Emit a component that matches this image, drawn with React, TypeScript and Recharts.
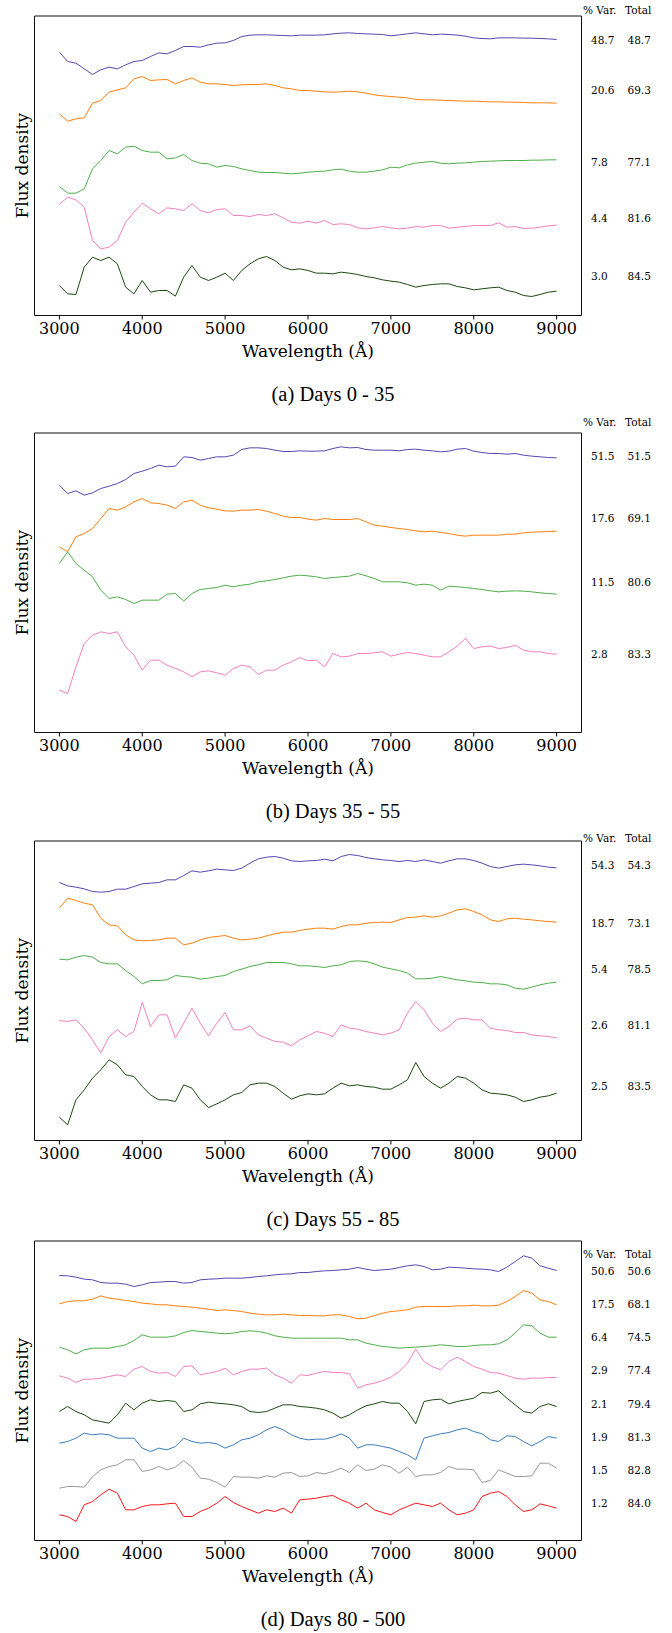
import { LineChart, Line, XAxis, YAxis, ReferenceArea } from "recharts";

// wavelength grid (Å)
const WAVE = [
  3000, 3100, 3200, 3300, 3400, 3500, 3600, 3700, 3800, 3900,
  4000, 4100, 4200, 4300, 4400, 4500, 4600, 4700, 4800, 4900,
  5000, 5100, 5200, 5300, 5400, 5500, 5600, 5700, 5800, 5900,
  6000, 6100, 6200, 6300, 6400, 6500, 6600, 6700, 6800, 6900,
  7000, 7100, 7200, 7300, 7400, 7500, 7600, 7700, 7800, 7900,
  8000, 8100, 8200, 8300, 8400, 8500, 8600, 8700, 8800, 8900,
  9000,
];
const TICKS = [3000, 4000, 5000, 6000, 7000, 8000, 9000];

// (a) Days 0 - 35 — offset flux, arbitrary units
const A_PURPLE = [
  790, 762, 757, 740, 723, 737, 745, 740, 752, 762,
  765, 777, 788, 785, 795, 807, 807, 805, 812, 817,
  818, 825, 837, 841, 842, 842, 841, 840, 839, 841,
  841, 841, 842, 845, 847, 848, 846, 845, 844, 843,
  839, 842, 845, 848, 845, 842, 844, 843, 841, 838,
  833, 831, 830, 833, 833, 833, 832, 832, 831, 830,
  828,
];
const A_ORANGE = [
  605, 583, 590, 593, 637, 645, 670, 677, 683, 710,
  717, 705, 707, 708, 695, 705, 713, 700, 695, 695,
  693, 690, 692, 693, 693, 695, 690, 683, 680, 675,
  675, 673, 671, 670, 671, 673, 671, 667, 662, 659,
  657, 655, 653, 648, 647, 647, 646, 645, 644, 643,
  643, 642, 641, 641, 640, 640, 639, 638, 638, 638,
  637,
];
const A_GREEN = [
  387, 367, 367, 380, 440, 465, 495, 485, 505, 508,
  495, 490, 490, 470, 473, 483, 465, 457, 455, 445,
  450, 447, 440, 435, 430, 429, 429, 427, 425, 427,
  430, 432, 433, 437, 439, 433, 430, 430, 433, 437,
  445, 443, 452, 457, 460, 462, 457, 455, 457, 458,
  460, 462, 463, 464, 465, 465, 465, 466, 466, 467,
  467,
];
const A_PINK = [
  333, 355, 347, 325, 225, 200, 205, 225, 280, 310,
  337, 320, 305, 323, 320, 315, 335, 315, 308, 318,
  320, 300, 300, 297, 303, 300, 305, 293, 280, 277,
  283, 277, 285, 273, 275, 273, 263, 260, 263, 267,
  263, 260, 262, 267, 265, 270, 270, 262, 265, 267,
  270, 270, 270, 278, 265, 267, 261, 262, 265, 269,
  271,
];
const A_DKGREEN = [
  90, 65, 63, 145, 175, 165, 175, 155, 85, 65,
  105, 70, 75, 75, 58, 115, 150, 115, 105, 115,
  127, 105, 135, 155, 170, 177, 165, 145, 137, 140,
  135, 127, 127, 125, 130, 127, 123, 117, 113, 107,
  103, 100, 93, 85, 90, 93, 95, 95, 87, 83,
  77, 80, 83, 85, 75, 70, 60, 57, 63, 70,
  73,
];

// (b) Days 35 - 55
const B_PURPLE = [
  742, 717, 725, 712, 719, 732, 739, 747, 759, 777,
  784, 792, 802, 797, 799, 827, 825, 817, 822, 827,
  827, 832, 849, 854, 854, 852, 847, 843, 843, 845,
  844, 844, 845, 852, 857, 854, 855, 849, 847, 847,
  847, 845, 849, 850, 847, 845, 842, 844, 850, 852,
  844, 840, 837, 837, 835, 837, 832, 829, 827, 825,
  824,
];
const B_ORANGE = [
  557, 542, 587, 597, 612, 642, 672, 667, 677, 692,
  702, 689, 687, 682, 672, 692, 697, 682, 674, 670,
  665, 664, 667, 667, 669, 664, 657, 649, 645, 645,
  640, 637, 642, 639, 639, 639, 642, 632, 622, 619,
  615, 612, 609, 605, 602, 604, 600, 597, 592, 589,
  592, 592, 592, 592, 595, 595, 599, 601, 602, 603,
  604,
];
const B_GREEN = [
  507, 542, 507, 487, 467, 427, 402, 407, 399, 387,
  397, 397, 397, 415, 417, 394, 417, 429, 432, 435,
  442, 437, 442, 445, 452, 455, 459, 464, 469, 472,
  470, 467, 462, 465, 467, 469, 477, 470, 462, 452,
  452, 452, 449, 442, 445, 442, 427, 439, 437, 435,
  432, 429, 425, 422, 424, 425, 424, 422, 419, 417,
  415,
];
const B_PINK = [
  127, 117, 197, 267, 292, 302, 297, 302, 257, 232,
  187, 217, 217, 202, 192, 182, 167, 182, 185, 179,
  172, 192, 202, 197, 174, 187, 187, 202, 212, 225,
  215, 217, 197, 237, 227, 229, 237, 237, 239, 242,
  229, 235, 240, 237, 232, 227, 227, 242, 259, 282,
  252, 257, 259, 252, 255, 262, 247, 242, 242, 237,
  235,
];

// (c) Days 55 - 85
const C_PURPLE = [
  774, 764, 760, 755, 747, 745, 747, 754, 754, 762,
  770, 772, 774, 782, 782, 795, 809, 805, 809, 814,
  812, 810, 817, 832, 845, 850, 852, 847, 839, 837,
  839, 840, 844, 839, 852, 858, 855, 849, 845, 842,
  840, 837, 840, 837, 842, 837, 832, 839, 845, 845,
  840, 832, 822, 817, 822, 827, 829, 827, 824, 820,
  818,
];
const C_ORANGE = [
  697, 727, 720, 712, 707, 667, 647, 644, 617, 602,
  599, 600, 602, 607, 607, 587, 592, 602, 609, 612,
  615, 607, 602, 604, 607, 614, 620, 625, 625, 630,
  634, 637, 637, 634, 642, 647, 647, 652, 654, 655,
  654, 662, 669, 670, 674, 670, 674, 682, 692, 695,
  687, 677, 662, 657, 665, 667, 664, 662, 659, 657,
  655,
];
const C_GREEN = [
  544, 542, 550, 555, 550, 534, 530, 530, 510, 492,
  470, 480, 480, 482, 495, 492, 490, 484, 487, 492,
  495, 507, 514, 522, 527, 534, 534, 534, 530, 524,
  524, 522, 519, 524, 527, 537, 539, 537, 530, 520,
  515, 510, 502, 485, 485, 487, 492, 487, 482, 479,
  475, 474, 470, 470, 467, 457, 454, 460, 467, 472,
  475,
];
const C_PINK = [
  360, 357, 362, 337, 302, 262, 312, 332, 312, 327,
  414, 342, 377, 377, 307, 352, 397, 352, 314, 352,
  384, 332, 332, 344, 317, 307, 297, 295, 284, 302,
  314, 327, 322, 312, 347, 337, 334, 327, 322, 317,
  322, 332, 382, 417, 392, 352, 327, 342, 364, 367,
  362, 362, 337, 332, 330, 324, 324, 317, 314, 312,
  308,
];
const C_DKGREEN = [
  70, 47, 122, 152, 187, 212, 242, 227, 197, 192,
  162, 137, 122, 122, 117, 167, 157, 122, 99, 110,
  122, 137, 144, 167, 172, 172, 162, 142, 124, 134,
  140, 137, 140, 157, 172, 164, 167, 162, 160, 154,
  154, 167, 182, 234, 192, 172, 157, 172, 192, 187,
  172, 152, 142, 140, 137, 130, 117, 122, 130, 134,
  142,
];

// (d) Days 80 - 500
const D_PURPLE = [
  795, 794, 790, 784, 782, 774, 772, 772, 769, 762,
  767, 774, 775, 777, 777, 772, 774, 782, 784, 785,
  787, 787, 787, 789, 792, 794, 797, 799, 800, 804,
  804, 807, 809, 810, 812, 814, 819, 814, 810, 812,
  814, 819, 824, 827, 822, 812, 814, 820, 819, 817,
  815, 814, 812, 807, 820, 837, 854, 847, 824, 817,
  810,
];
const D_ORANGE = [
  710, 717, 719, 719, 724, 734, 727, 724, 720, 717,
  712, 710, 707, 707, 704, 702, 700, 697, 694, 690,
  692, 690, 687, 682, 679, 677, 677, 679, 677, 675,
  675, 674, 674, 677, 677, 672, 665, 667, 675, 682,
  687, 689, 692, 700, 702, 702, 702, 702, 704, 704,
  706, 704, 704, 706, 717, 732, 750, 742, 722, 717,
  707,
];
const D_GREEN = [
  580, 572, 560, 572, 577, 577, 577, 582, 587, 600,
  617, 610, 610, 610, 614, 624, 630, 627, 625, 622,
  620, 622, 627, 629, 627, 622, 614, 610, 607, 607,
  607, 607, 607, 607, 607, 602, 602, 592, 587, 582,
  580, 577, 579, 580, 582, 584, 587, 585, 582, 582,
  585, 587, 587, 590, 602, 622, 647, 644, 622, 610,
  610,
];
const D_PINK = [
  494, 487, 474, 484, 484, 487, 492, 497, 492, 514,
  522, 507, 502, 504, 492, 522, 524, 497, 502, 507,
  517, 497, 507, 514, 514, 517, 497, 487, 472, 497,
  495, 502, 507, 504, 504, 500, 457, 467, 472, 480,
  490, 507, 532, 574, 537, 522, 512, 537, 550, 537,
  522, 514, 504, 502, 495, 487, 484, 487, 487, 489,
  489,
];
const D_DKGREEN = [
  387, 402, 387, 377, 362, 357, 352, 377, 412, 392,
  412, 422, 417, 420, 417, 387, 392, 410, 415, 412,
  410, 407, 402, 387, 384, 387, 397, 407, 407, 402,
  400, 397, 392, 382, 367, 377, 392, 404, 410, 417,
  412, 412, 387, 350, 417, 422, 424, 410, 417, 422,
  427, 444, 442, 449, 427, 407, 387, 382, 402, 410,
  402,
];
const D_BLUE = [
  292, 297, 307, 322, 317, 320, 317, 307, 307, 307,
  277, 267, 277, 272, 282, 307, 297, 292, 294, 290,
  277, 287, 302, 307, 317, 332, 342, 332, 317, 307,
  302, 304, 304, 310, 320, 307, 277, 287, 287, 282,
  277, 267, 257, 242, 307, 314, 320, 324, 332, 337,
  327, 320, 302, 297, 314, 312, 297, 284, 297, 312,
  307,
];
const D_GRAY = [
  157, 162, 162, 160, 192, 212, 222, 227, 242, 242,
  207, 212, 222, 212, 220, 240, 220, 187, 184, 174,
  160, 192, 190, 190, 187, 194, 190, 202, 204, 192,
  194, 204, 200, 207, 217, 204, 227, 210, 214, 227,
  220, 202, 220, 192, 197, 197, 204, 222, 214, 214,
  212, 174, 180, 212, 202, 192, 192, 194, 232, 232,
  217,
];
const D_RED = [
  77, 72, 57, 107, 117, 137, 154, 142, 92, 92,
  102, 107, 107, 110, 112, 72, 72, 87, 97, 112,
  132, 114, 102, 92, 82, 92, 87, 97, 82, 122,
  124, 127, 132, 135, 122, 112, 97, 112, 92, 84,
  77, 92, 102, 112, 107, 102, 112, 92, 77, 82,
  92, 132, 142, 147, 132, 107, 87, 92, 110, 104,
  97,
];

// % variance and cumulative total per component
const A_VAR = ["48.7", "20.6", "7.8", "4.4", "3.0"];
const A_TOTAL = ["48.7", "69.3", "77.1", "81.6", "84.5"];
const B_VAR = ["51.5", "17.6", "11.5", "2.8"];
const B_TOTAL = ["51.5", "69.1", "80.6", "83.3"];
const C_VAR = ["54.3", "18.7", "5.4", "2.6", "2.5"];
const C_TOTAL = ["54.3", "73.1", "78.5", "81.1", "83.5"];
const D_VAR = ["50.6", "17.5", "6.4", "2.9", "2.1", "1.9", "1.5", "1.2"];
const D_TOTAL = ["50.6", "68.1", "74.5", "77.4", "79.4", "81.3", "82.8", "84.0"];

const CAPTIONS = ["(a) Days 0 - 35", "(b) Days 35 - 55", "(c) Days 55 - 85", "(d) Days 80 - 500"];

const PURPLE = "#5b44b2";
const ORANGE = "#ff7f0e";
const GREEN = "#4daf4a";
const PINK = "#f57fbf";
const DKGREEN = "#1b4a10";
const BLUE = "#3a7dbd";
const GRAY = "#999999";
const RED = "#f5161c";

// layout (pixels)
const BOX_H = 299.5;
const PLOT_LEFT = 34.5;
const PLOT_RIGHT = 581.5;
const SERIF = "'DejaVu Serif', 'Liberation Serif', serif";
const TIMES = "'Liberation Serif', 'DejaVu Serif', serif";

const panels = [
  {
    bottom: 315.5,
    series: [A_PURPLE, A_ORANGE, A_GREEN, A_PINK, A_DKGREEN],
    colors: [PURPLE, ORANGE, GREEN, PINK, DKGREEN],
    vars: A_VAR, totals: A_TOTAL,
    headY: 14, rowY: [43.5, 93.8, 165.8, 221.5, 279.5],
  },
  {
    bottom: 732.5,
    series: [B_PURPLE, B_ORANGE, B_GREEN, B_PINK],
    colors: [PURPLE, ORANGE, GREEN, PINK],
    vars: B_VAR, totals: B_TOTAL,
    headY: 425.5, rowY: [459.5, 521.5, 585.8, 658.1],
  },
  {
    bottom: 1140.5,
    series: [C_PURPLE, C_ORANGE, C_GREEN, C_PINK, C_DKGREEN],
    colors: [PURPLE, ORANGE, GREEN, PINK, DKGREEN],
    vars: C_VAR, totals: C_TOTAL,
    headY: 842, rowY: [869.1, 926.5, 973.1, 1028.8, 1089.8],
  },
  {
    bottom: 1540.5,
    series: [D_PURPLE, D_ORANGE, D_GREEN, D_PINK, D_DKGREEN, D_BLUE, D_GRAY, D_RED],
    colors: [PURPLE, ORANGE, GREEN, PINK, DKGREEN, BLUE, GRAY, RED],
    vars: D_VAR, totals: D_TOTAL,
    headY: 1257.8, rowY: [1274.5, 1307.8, 1341.1, 1374.1, 1407.5, 1440.8, 1473.8, 1506.8],
  },
];

function SpectraPanel({ series, colors, top }: { series: number[][]; colors: string[]; top: number }) {
  const rows = WAVE.map((w, i) => {
    const row: Record<string, number> = { w };
    series.forEach((s, k) => {
      row["s" + k] = s[i];
    });
    return row;
  });
  const yMax = BOX_H * 3;

  return (
    <div style={{ position: "absolute", left: 0, top: top - 10 }}>
      <LineChart
        width={672}
        height={10 + BOX_H + 40}
        data={rows}
        margin={{ top: 10, right: 672 - PLOT_RIGHT, bottom: 0, left: PLOT_LEFT }}
      >
        <XAxis
          dataKey="w"
          type="number"
          domain={[2700, 9300]}
          ticks={TICKS}
          interval={0}
          allowDataOverflow
          height={40}
          axisLine={false}
          tickSize={4}
          tickMargin={3}
          tickLine={{ stroke: "#000" }}
          tick={{ fontSize: 16, fill: "#000", style: { fontFamily: SERIF } }}
        />
        <YAxis hide domain={[0, yMax]} allowDataOverflow />
        {series.map((_, k) => (
          <Line
            key={k}
            type="linear"
            dataKey={"s" + k}
            stroke={colors[k]}
            strokeWidth={1}
            dot={false}
            activeDot={false}
            isAnimationActive={false}
          />
        ))}
        <ReferenceArea
          x1={2700}
          x2={9300}
          y1={0}
          y2={yMax}
          fill="none"
          fillOpacity={0}
          stroke="#111"
          strokeWidth={1}
          ifOverflow="visible"
        />
      </LineChart>
    </div>
  );
}

export default function App() {
  const midX = (PLOT_LEFT + PLOT_RIGHT) / 2;
  const serif = { fontFamily: SERIF };
  return (
    <div
      style={{
        position: "absolute",
        left: 0,
        top: 0,
        width: 672,
        height: 1633,
        background: "#fff",
        fontFamily: SERIF,
      }}
    >
      {panels.map((p, i) => (
        <SpectraPanel key={i} series={p.series} colors={p.colors} top={p.bottom - BOX_H} />
      ))}
      <svg
        width={672}
        height={1633}
        style={{ position: "absolute", left: 0, top: 0, pointerEvents: "none" }}
      >
        {panels.map((p, i) => (
          <g key={i} fill="#000">
            <text
              transform={`translate(28, ${p.bottom - BOX_H / 2}) rotate(-90)`}
              textAnchor="middle"
              fontSize={17}
              style={serif}
            >
              Flux density
            </text>
            <text x={midX} y={p.bottom + 41} textAnchor="middle" fontSize={17} style={serif}>
              Wavelength (Å)
            </text>
            <text x={333} y={p.bottom + 85.5} textAnchor="middle" fontSize={20.5} style={{ fontFamily: TIMES }}>
              {CAPTIONS[i]}
            </text>
            <text x={583} y={p.headY} fontSize={10.5} style={serif}>
              % Var.
            </text>
            <text x={625} y={p.headY} fontSize={10.5} style={serif}>
              Total
            </text>
            {p.vars.map((v, k) => (
              <g key={k}>
                <text x={591} y={p.rowY[k]} fontSize={10.5} style={serif}>
                  {v}
                </text>
                <text x={627.5} y={p.rowY[k]} fontSize={10.5} style={serif}>
                  {p.totals[k]}
                </text>
              </g>
            ))}
          </g>
        ))}
      </svg>
    </div>
  );
}
